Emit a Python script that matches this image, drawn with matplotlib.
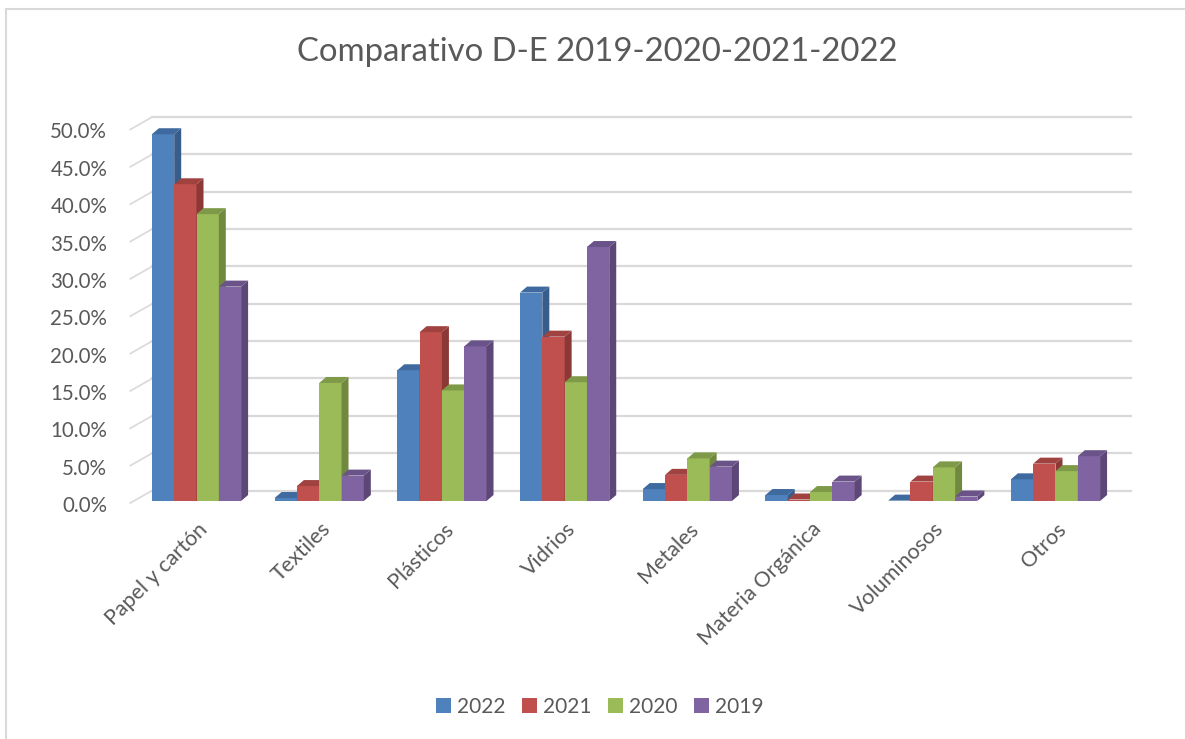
import numpy as np
import matplotlib
matplotlib.use("Agg")
import matplotlib.pyplot as plt
from matplotlib.patches import Polygon, Patch
from matplotlib.lines import Line2D
from matplotlib import transforms

plt.rcParams['font.family'] = ['Lato', 'DejaVu Sans']

categories = ['Papel y cartón', 'Textiles', 'Plásticos', 'Vidrios', 'Metales',
              'Materia Orgánica', 'Voluminosos', 'Otros']
years = ['2022', '2021', '2020', '2019']
v2022 = [49.1, 0.4, 17.5, 27.9, 1.6, 0.8, 0.05, 2.9]
v2021 = [42.4, 2.0, 22.6, 22.0, 3.5, 0.2, 2.6, 5.0]
v2020 = [38.4, 15.8, 14.8, 15.9, 5.7, 1.2, 4.5, 4.0]
v2019 = [28.7, 3.4, 20.7, 34.0, 4.6, 2.6, 0.6, 6.0]
yticks = [0, 5, 10, 15, 20, 25, 30, 35, 40, 45, 50]

front_cols = ['#4F81BD', '#C0504D', '#9BBB59', '#8064A2']
side_cols = ['#385D8A', '#8C3836', '#71893F', '#5C4776']
top_cols = ['#3F6A9F', '#A04240', '#7E9A48', '#6A5388']
text_col = '#595959'
grid_col = '#D9D9D9'

W, H = 1185, 739
fig = plt.figure(figsize=(W / 100, H / 100), dpi=100)

# front plane of the bars (pixel geometry of the reference)
px_unit = 122.71
px_pct = 7.47
x_lo, x_hi = -0.54, 7.42
left_px = 196.5 + x_lo * px_unit
right_px = 196.5 + x_hi * px_unit
zero_px = 501
top_px = zero_px - 50 * px_pct
ax = fig.add_axes([left_px / W, 1 - zero_px / H, (right_px - left_px) / W, (zero_px - top_px) / H])
ax.set_xlim(x_lo, x_hi)
ax.set_ylim(0, 50)
ax.axis('off')

# depth offsets in data units
ddx, ddy = 7 / px_unit, 6 / px_pct
wdx, wdy = 22 / px_unit, 10.5 / px_pct
x_end = (1131 - 196.5) / px_unit

# back wall gridlines + left diagonals
for v in yticks:
    ax.add_line(Line2D([x_lo + wdx, x_end], [v + wdy, v + wdy], color=grid_col,
                       lw=1.6, zorder=1, clip_on=False))
    ax.add_line(Line2D([x_lo, x_lo + wdx], [v - 2 / px_pct, v + wdy], color=grid_col,
                       lw=1.2, zorder=1, clip_on=False))

series = [v2022, v2021, v2020, v2019]
bw = 22.3 / px_unit
x = np.arange(len(categories))
for k, vals in enumerate(series):
    centers = x + (k - 1.5) * bw
    z = 3 + k
    ax.bar(centers, vals, bw, color=front_cols[k], zorder=z, linewidth=0)
    for c, h in zip(centers, vals):
        x0, x1 = c - bw / 2, c + bw / 2
        ax.add_patch(Polygon([(x1, 0), (x1 + ddx, ddy), (x1 + ddx, h + ddy), (x1, h)],
                             closed=True, fc=side_cols[k], ec='none', zorder=z, clip_on=False))
        ax.add_patch(Polygon([(x0, h), (x1, h), (x1 + ddx, h + ddy), (x0 + ddx, h + ddy)],
                             closed=True, fc=top_cols[k], ec='none', zorder=z, clip_on=False))

# y tick labels
for v in yticks:
    tr = transforms.offset_copy(ax.transData, fig=fig, x=-23, y=-5, units='dots')
    ax.text(x_lo, v, f'{v:.1f}%', transform=tr, ha='right', va='center',
            fontsize=14.8, color=text_col)

# category labels
for i, cat in enumerate(categories):
    tr = transforms.offset_copy(ax.transData, fig=fig, x=1, y=-18, units='dots')
    ax.text(i, 0, cat, transform=tr, ha='right', va='top', rotation=45,
            rotation_mode='anchor', fontsize=15.5, color=text_col)

fig.text(597 / W, 1 - 52 / H, 'Comparativo D-E 2019-2020-2021-2022', ha='center',
         va='center', fontsize=23.7, color=text_col)

handles = [Patch(facecolor=c, edgecolor='none') for c in front_cols]
fig.legend(handles, years, loc='center', bbox_to_anchor=(600 / W, 1 - 707 / H), ncol=4,
           frameon=False, fontsize=15, handlelength=0.7, handleheight=0.7,
           handletextpad=0.33, columnspacing=0.77, labelcolor=text_col)

# chart border (left and top edges visible)
fig.add_artist(Line2D([6 / W, 6 / W], [0, 1 - 9 / H], color=grid_col, lw=1.5))
fig.add_artist(Line2D([6 / W, 1], [1 - 9 / H, 1 - 9 / H], color=grid_col, lw=1.5))

fig.savefig('out.png', dpi=100)
